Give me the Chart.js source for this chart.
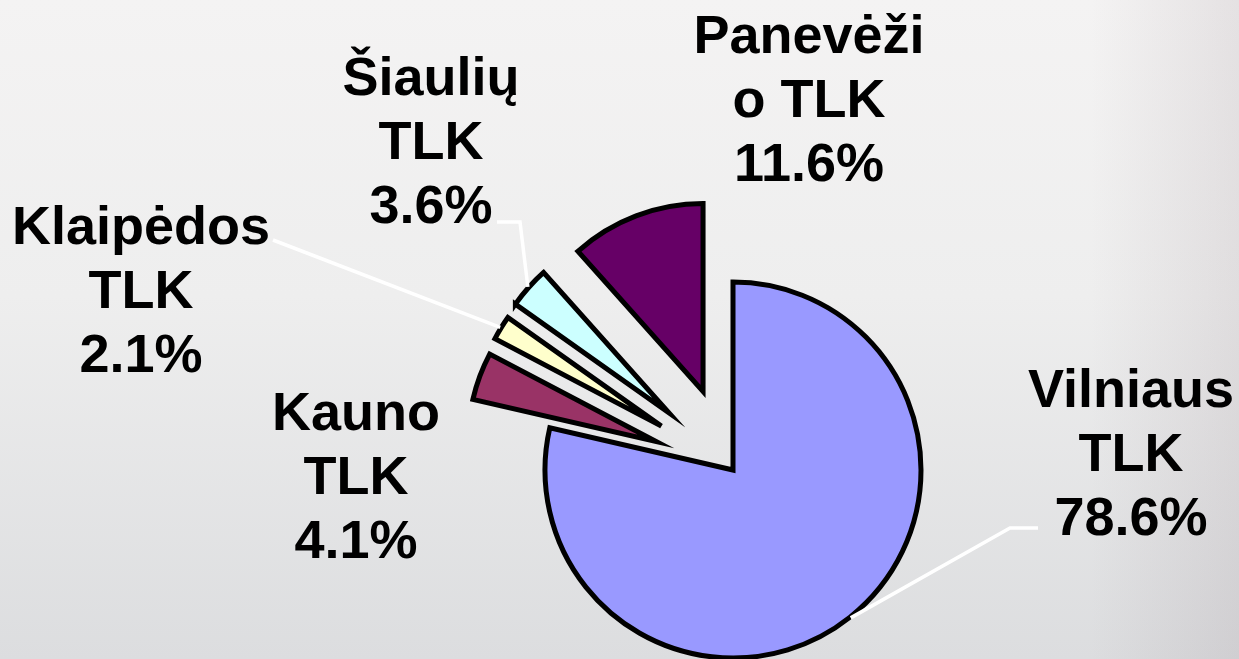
<!DOCTYPE html>
<html>
<head>
<meta charset="utf-8">
<script src="https://cdn.jsdelivr.net/npm/chart.js@4/dist/chart.umd.min.js"></script>
<style>
  html, body { margin: 0; padding: 0; width: 1239px; height: 659px; overflow: hidden; }
  body {
    background:
      linear-gradient(to right, rgba(0,0,0,0) 0%, rgba(0,0,0,0) 88%, rgba(120,100,110,0.12) 100%),
      linear-gradient(to bottom, #f4f3f3 0%, #eeeeee 45%, #dcdddf 100%);
  }
  #pieChart { display: block; }
</style>
</head>
<body>
<canvas id="pieChart" width="1239" height="659"></canvas>
<script>
// data
const categories = ['Vilniaus TLK', 'Kauno TLK', 'Klaipėdos TLK', 'Šiaulių TLK', 'Panevėžio TLK'];
const nameLines = [['Vilniaus', 'TLK'], ['Kauno', 'TLK'], ['Klaipėdos', 'TLK'], ['Šiaulių', 'TLK'], ['Panevėži', 'o TLK']];
const shares = [78.6, 4.1, 2.1, 3.6, 11.6];
const sliceColors = ['#9999ff', '#993366', '#ffffcc', '#ccffff', '#660066'];
// how far (px) each slice is pulled out along its bisector
const explode = [0, 82, 84, 86, 84];

// where the label blocks sit, and the elbow of each leader line
const labelLayout = [
  { x: 1131, y: 392, leader: [[1038, 528], [1010, 528]] },
  { x: 356, y: 415, leader: null },
  { x: 141, y: 229, leader: [[273, 240]] },
  { x: 431, y: 80, leader: [[497, 222], [520, 222]] },
  { x: 809, y: 38, leader: null }
];

// Chart.js' own offset also trims and grows the arcs, so exploded slices
// are moved here instead: same radius, same angles, centre pushed out
const explodeSlices = {
  id: 'explodeSlices',
  beforeDatasetsDraw(chart) {
    const meta = chart.getDatasetMeta(0);
    const area = chart.chartArea;
    const cx = (area.left + area.right) / 2 + meta.controller.offsetX;
    const cy = (area.top + area.bottom) / 2 + meta.controller.offsetY;
    meta.data.forEach((arc, i) => {
      const mid = (arc.startAngle + arc.endAngle) / 2;
      arc.x = cx + Math.cos(mid) * explode[i];
      arc.y = cy + Math.sin(mid) * explode[i];
    });
  },
  afterDatasetsDraw(chart) {
    const ctx = chart.ctx;
    const meta = chart.getDatasetMeta(0);
    ctx.save();
    // leader lines
    ctx.strokeStyle = '#ffffff';
    ctx.lineWidth = 3.5;
    ctx.lineJoin = 'miter';
    meta.data.forEach((arc, i) => {
      const lay = labelLayout[i];
      if (!lay.leader) return;
      const mid = (arc.startAngle + arc.endAngle) / 2;
      const r = arc.outerRadius + 1;
      ctx.beginPath();
      ctx.moveTo(lay.leader[0][0], lay.leader[0][1]);
      lay.leader.slice(1).forEach(pt => ctx.lineTo(pt[0], pt[1]));
      ctx.lineTo(arc.x + Math.cos(mid) * r, arc.y + Math.sin(mid) * r);
      ctx.stroke();
    });
    // text
    ctx.fillStyle = '#000000';
    ctx.font = 'bold 54px "Liberation Sans", Arial, sans-serif';
    ctx.textAlign = 'center';
    ctx.textBaseline = 'middle';
    labelLayout.forEach((lay, i) => {
      const lines = nameLines[i].concat([shares[i].toFixed(1) + '%']);
      lines.forEach((t, k) => ctx.fillText(t, lay.x, lay.y + k * 64));
    });
    ctx.restore();
  }
};

new Chart(document.getElementById('pieChart').getContext('2d'), {
  type: 'pie',
  data: {
    labels: categories,
    datasets: [{
      data: shares,
      backgroundColor: sliceColors,
      borderColor: '#000000',
      borderWidth: 5,
      borderJoinStyle: 'miter',
      clip: false
    }]
  },
  options: {
    responsive: false,
    animation: false,
    radius: 188,
    layout: { padding: { left: 227, top: 281, right: 0, bottom: 0 } },
    plugins: {
      legend: { display: false },
      tooltip: { enabled: false }
    }
  },
  plugins: [explodeSlices]
});
</script>
</body>
</html>
